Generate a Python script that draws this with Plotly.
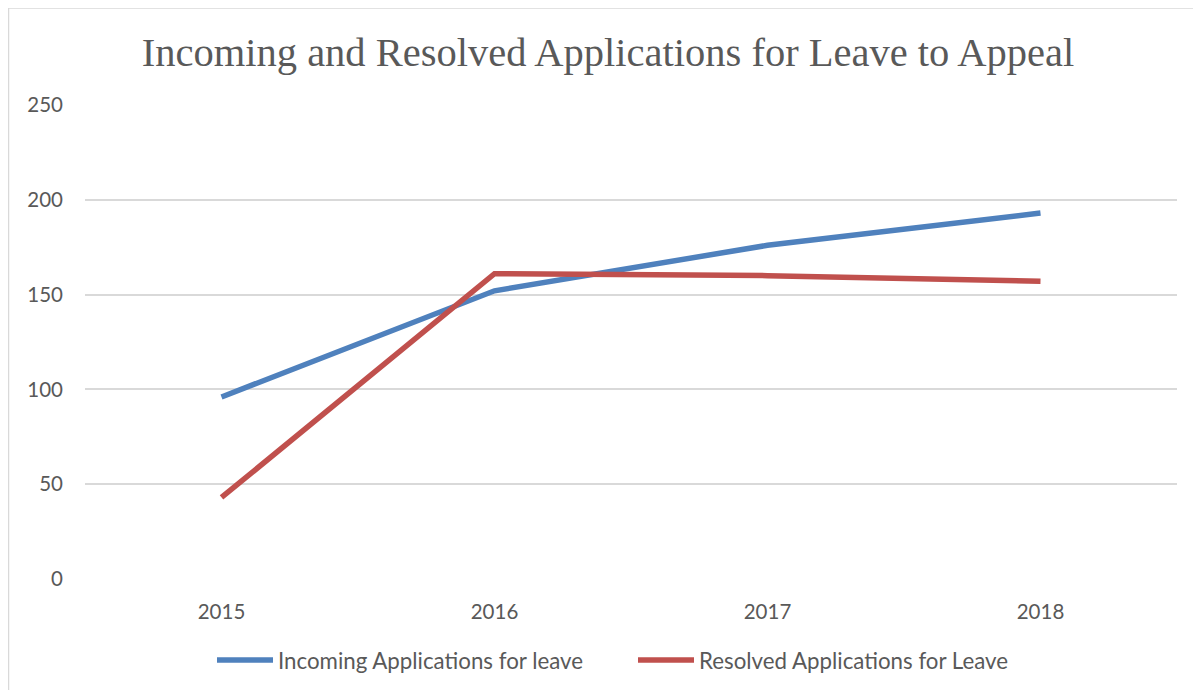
import plotly.graph_objects as go

years = ["2015", "2016", "2017", "2018"]
incoming = [96, 152, 176, 193]
resolved = [43, 161, 160, 157]
y_ticks = [0, 50, 100, 150, 200, 250]

OFF = 8  # page body margin
W, H = 1201 - OFF, 690 - OFF
# plot area in page pixels: x 85..1177, y 105..577
L, R, T, B = 85 - OFF, (1201 - 1177), 105 - OFF, (690 - 577) - 2
pw, ph = W - L - R, H - T - B

def px_x(x):
    return (x - OFF - L) / pw

def px_y(y):
    return (H - B - (y - OFF - 2)) / ph

FONT_SANS = "Lato"

fig = go.Figure()
fig.add_trace(go.Scatter(x=years, y=incoming, mode="lines", name="Incoming Applications for leave",
                         line=dict(color="#4F81BD", width=5.5)))
fig.add_trace(go.Scatter(x=years, y=resolved, mode="lines", name="Resolved Applications for Leave",
                         line=dict(color="#C0504D", width=5.5)))

fig.update_layout(
    width=W, height=H,
    margin=dict(l=L, r=R, t=T, b=B, autoexpand=False),
    paper_bgcolor="white", plot_bgcolor="white",
    title=dict(text="Incoming and Resolved Applications for Leave to Appeal",
               font=dict(family="Liberation Serif", size=40.5, color="#595959"),
               x=px_x(608), xref="paper", xanchor="center", y=1 - (52 - OFF) / H, yanchor="middle"),
    xaxis=dict(type="category", range=[-0.5, 3.5], showgrid=False, showline=False, zeroline=False,
               ticks="", ticklabelstandoff=18,
               tickfont=dict(family=FONT_SANS, size=20.5, color="#595959")),
    yaxis=dict(range=[0, 250], tickvals=y_ticks, showgrid=True, gridcolor="#D9D9D9", gridwidth=1.5,
               zeroline=False, showline=False, ticks="", ticklabelstandoff=21,
               tickfont=dict(family=FONT_SANS, size=20.5, color="#595959")),
    legend=dict(orientation="h", x=px_x(633), xref="paper", xanchor="center",
                y=px_y(662), yanchor="middle",
                font=dict(family=FONT_SANS, size=22.3, color="#595959"),
                itemwidth=56, entrywidth=350, tracegroupgap=0),
    showlegend=True,
)

fig.add_shape(type="rect", xref="paper", yref="paper",
              x0=px_x(8.5), x1=px_x(1199.5), y0=px_y(720), y1=px_y(10),
              line=dict(color="#D9D9D9", width=1.5), fillcolor="rgba(0,0,0,0)", layer="below")

fig.write_html("out.html")
